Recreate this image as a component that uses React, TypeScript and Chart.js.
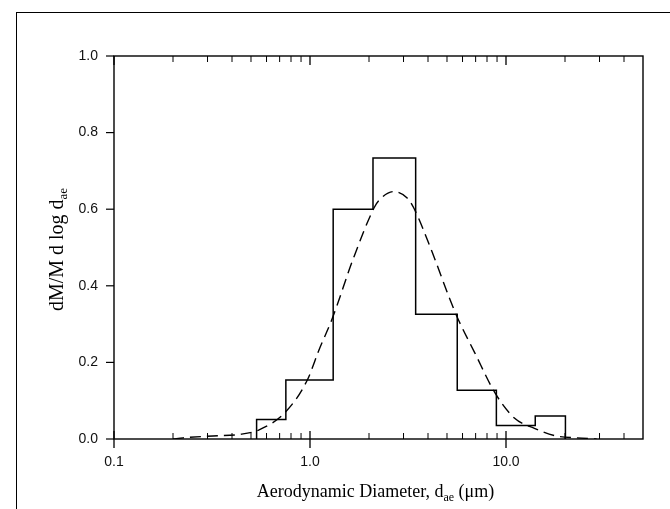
import React, { useEffect, useRef } from "react";
import { Chart, registerables } from "chart.js";

Chart.register(...registerables);

// Histogram (stage cut points, µm) and heights
const binEdges = [0.534, 0.753, 1.313, 2.096, 3.46, 5.64, 8.93, 14.1, 20.1];
const binHeights = [0.051, 0.154, 0.6, 0.734, 0.326, 0.127, 0.035, 0.06];

// Fitted log-normal curve
const fitDiameters = [0.2, 0.225, 0.32, 0.436, 0.55, 0.752, 0.969, 1.11, 1.3, 1.66, 2.12, 2.24, 2.67, 3.12, 3.37, 4.2, 5.08, 5.64, 6.93, 8.82, 11.07, 13.96, 18.0, 23.1, 29.0];
const fitValues = [0.0, 0.003, 0.008, 0.012, 0.024, 0.071, 0.154, 0.232, 0.315, 0.47, 0.603, 0.622, 0.646, 0.63, 0.605, 0.488, 0.375, 0.318, 0.225, 0.119, 0.054, 0.028, 0.008, 0.003, 0.0];

const xTickValues = [0.1, 1, 10];
const xTickLabels = ["0.1", "1.0", "10.0"];
const xMinorMultipliers = [2, 3, 4, 5, 6, 7, 8, 9];
const yTickValues = [0, 0.2, 0.4, 0.6, 0.8, 1.0];

const X_MIN = 0.1;
const X_MAX = 50;

const xTitleMain = "Aerodynamic Diameter, d";
const xTitleSub = "ae";
const xTitleEnd = " (\u03bcm)";
const yTitleMain = "dM/M d log d";
const yTitleSub = "ae";

const framePlugin = {
  id: "framePlugin",
  afterDraw(chart: any) {
    const ctx = chart.ctx;
    const { left, right, top, bottom } = chart.chartArea;
    const xs = chart.scales.x;
    const ys = chart.scales.y;
    ctx.save();
    ctx.strokeStyle = "#000";
    ctx.lineWidth = 1.4;
    ctx.strokeRect(left, top, right - left, bottom - top);

    // x major ticks
    ctx.lineWidth = 1.3;
    xTickValues.forEach((v) => {
      const px = xs.getPixelForValue(v);
      ctx.beginPath();
      ctx.moveTo(px, bottom - 8);
      ctx.lineTo(px, bottom + 9);
      ctx.moveTo(px, top);
      ctx.lineTo(px, top + 9);
      ctx.stroke();
    });
    // x minor ticks
    ctx.lineWidth = 1;
    xTickValues.forEach((d) => {
      xMinorMultipliers.forEach((m) => {
        const v = d * m;
        if (v >= X_MAX) return;
        const px = xs.getPixelForValue(v);
        ctx.beginPath();
        ctx.moveTo(px, bottom);
        ctx.lineTo(px, bottom - 6);
        ctx.moveTo(px, top);
        ctx.lineTo(px, top + 6);
        ctx.stroke();
      });
    });
    // y ticks (outward)
    ctx.lineWidth = 1.2;
    yTickValues.forEach((v) => {
      const py = ys.getPixelForValue(v);
      ctx.beginPath();
      ctx.moveTo(left - 8, py);
      ctx.lineTo(left, py);
      ctx.stroke();
    });

    // Axis titles
    ctx.fillStyle = "#000";
    const mainFont = "18px 'Liberation Serif', 'Times New Roman', serif";
    const subFont = "12px 'Liberation Serif', 'Times New Roman', serif";
    ctx.textBaseline = "alphabetic";
    ctx.textAlign = "left";
    ctx.font = mainFont;
    const w1 = ctx.measureText(xTitleMain).width;
    const w3 = ctx.measureText(xTitleEnd).width;
    ctx.font = subFont;
    const w2 = ctx.measureText(xTitleSub).width;
    const cx = (left + right) / 2 - 3;
    const x0 = cx - (w1 + w2 + w3) / 2;
    const by = 497;
    ctx.font = mainFont;
    ctx.fillText(xTitleMain, x0, by);
    ctx.font = subFont;
    ctx.fillText(xTitleSub, x0 + w1, by + 4);
    ctx.font = mainFont;
    ctx.fillText(xTitleEnd, x0 + w1 + w2, by);

    // y title
    const yMainFont = "20px 'Liberation Serif', 'Times New Roman', serif";
    const ySubFont = "13px 'Liberation Serif', 'Times New Roman', serif";
    ctx.font = yMainFont;
    const yw1 = ctx.measureText(yTitleMain).width;
    ctx.font = ySubFont;
    const yw2 = ctx.measureText(yTitleSub).width;
    ctx.translate(63, (top + bottom) / 2 + 2);
    ctx.rotate(-Math.PI / 2);
    const yx0 = -(yw1 + yw2) / 2;
    ctx.font = yMainFont;
    ctx.fillText(yTitleMain, yx0, 0);
    ctx.font = ySubFont;
    ctx.fillText(yTitleSub, yx0 + yw1, 4);
    ctx.restore();
  },
};

export default function App() {
  const canvasRef = useRef<HTMLCanvasElement | null>(null);

  useEffect(() => {
    if (!canvasRef.current) return;
    const histPoints: { x: number; y: number }[] = [{ x: binEdges[0], y: 0 }];
    binHeights.forEach((h, i) => histPoints.push({ x: binEdges[i], y: h }));
    histPoints.push({ x: binEdges[binEdges.length - 1], y: 0 });
    const fitPoints = fitDiameters.map((d, i) => ({ x: d, y: fitValues[i] }));

    const tickFont = { family: "'Liberation Sans', Arial, sans-serif", size: 14 };

    const chart = new Chart(canvasRef.current, {
      type: "line",
      data: {
        datasets: [
          {
            label: "Measured",
            data: histPoints,
            stepped: "before",
            borderColor: "#000",
            borderWidth: 1.5,
            pointRadius: 0,
            fill: false,
          },
          {
            label: "Log-normal fit",
            data: fitPoints,
            borderColor: "#000",
            borderWidth: 1.4,
            borderDash: [11, 6],
            pointRadius: 0,
            cubicInterpolationMode: "monotone",
            fill: false,
          },
        ],
      },
      options: {
        animation: false,
        responsive: false,
        maintainAspectRatio: false,
        layout: { padding: { top: 56, right: 27, left: 0, bottom: 0 } },
        plugins: { legend: { display: false }, tooltip: { enabled: false } },
        scales: {
          x: {
            type: "logarithmic",
            min: X_MIN,
            max: X_MAX,
            grid: { display: false, drawTicks: false },
            border: { display: false },
            afterBuildTicks: (scale: any) => {
              scale.ticks = xTickValues.map((v) => ({ value: v }));
            },
            afterFit: (scale: any) => {
              scale.height = 70;
            },
            ticks: {
              autoSkip: false,
              maxRotation: 0,
              padding: 15,
              color: "#111",
              font: tickFont,
              callback: (_v: any, i: number) => xTickLabels[i],
            },
          },
          y: {
            type: "linear",
            min: 0,
            max: 1,
            grid: { display: false, drawTicks: false },
            border: { display: false },
            afterFit: (scale: any) => {
              scale.width = 114;
            },
            afterBuildTicks: (scale: any) => {
              scale.ticks = yTickValues.map((v) => ({ value: v }));
            },
            ticks: {
              padding: 16,
              color: "#111",
              font: tickFont,
              callback: (v: any) => Number(v).toFixed(1),
            },
          },
        },
      },
      plugins: [framePlugin],
    });
    return () => chart.destroy();
  }, []);

  return (
    <div style={{ position: "fixed", left: 0, top: 0, width: 670, height: 509, background: "#fff" }}>
      <div
        style={{
          position: "absolute",
          left: 16,
          top: 12,
          width: 654,
          height: 497,
          borderLeft: "1.5px solid #000",
          borderTop: "1.5px solid #000",
        }}
      />
      <canvas ref={canvasRef} width={670} height={509} style={{ position: "absolute", left: 0, top: 0 }} />
    </div>
  );
}
